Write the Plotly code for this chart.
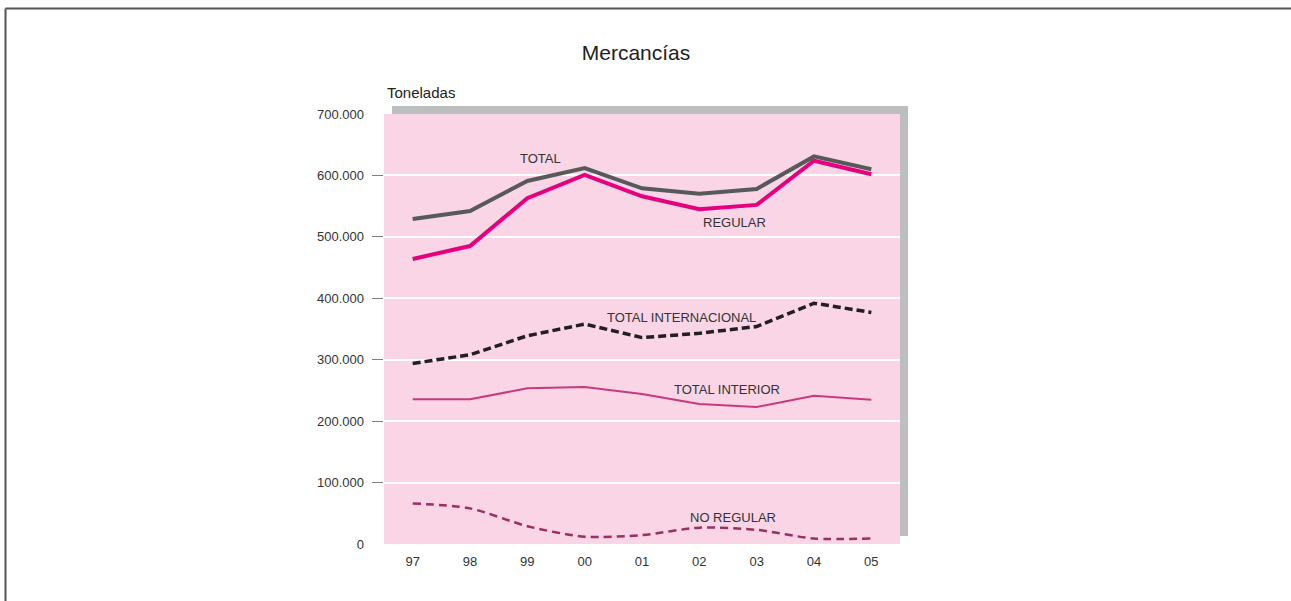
import plotly.graph_objects as go

years = ["97", "98", "99", "00", "01", "02", "03", "04", "05"]
total = [529000, 542000, 591000, 612000, 579000, 570000, 578000, 631000, 610000]
regular = [464000, 485000, 563000, 601000, 566000, 545000, 552000, 624000, 602000]
no_regular = [66000, 58000, 29000, 12000, 14500, 26500, 23000, 9000, 9000]
total_internacional = [294000, 308000, 339000, 358000, 336000, 343000, 354000, 392000, 377000]
total_interior = [235500, 235500, 253500, 255500, 244000, 228000, 223000, 241500, 235000]
y_ticks = [0, 100000, 200000, 300000, 400000, 500000, 600000, 700000]
y_tick_labels = ["0", "100.000", "200.000", "300.000", "400.000", "500.000", "600.000", "700.000"]

FONT = "Liberation Sans, Arial, sans-serif"
W, H = 1291, 601
L, R, T, B = 384, 391, 114, 57
PW, PH = W - L - R, H - T - B


def px_x(p):
    return (p - L) / PW


def px_y(p):
    return (H - B - p) / PH


fig = go.Figure()
fig.add_trace(go.Scatter(x=years, y=total_interior, mode="lines",
                         line=dict(color="#c83a80", width=2), name="TOTAL INTERIOR"))
fig.add_trace(go.Scatter(x=years, y=no_regular, mode="lines",
                         line=dict(color="#9a2f62", width=2.5, dash="8px,5px", shape="spline", smoothing=0.8),
                         name="NO REGULAR"))
fig.add_trace(go.Scatter(x=years, y=total_internacional, mode="lines",
                         line=dict(color="#231f20", width=3.5, dash="8px,4px"), name="TOTAL INTERNACIONAL"))
fig.add_trace(go.Scatter(x=years, y=total, mode="lines",
                         line=dict(color="#58595b", width=4), name="TOTAL"))
fig.add_trace(go.Scatter(x=years, y=regular, mode="lines",
                         line=dict(color="#e6007e", width=4), name="REGULAR"))

labels = [("TOTAL", 2.23, 627000), ("REGULAR", 5.62, 524000),
          ("TOTAL INTERNACIONAL", 4.69, 369000), ("TOTAL INTERIOR", 5.48, 251000),
          ("NO REGULAR", 5.59, 43500)]
for txt, lx, ly in labels:
    fig.add_annotation(x=lx, y=ly, xref="x", yref="y", text=txt, showarrow=False,
                       font=dict(family=FONT, size=13, color="#333333"),
                       xanchor="center", yanchor="middle")

fig.add_annotation(x=px_x(385), y=px_y(92), xref="paper", yref="paper", text="Toneladas",
                   showarrow=False, xanchor="left", yanchor="middle",
                   font=dict(family=FONT, size=15, color="#222222"))

shapes = [
    dict(type="rect", xref="paper", yref="paper", x0=px_x(392), x1=px_x(908), y0=px_y(536), y1=px_y(106),
         fillcolor="#bcbec0", line=dict(width=0), layer="below"),
    dict(type="rect", xref="paper", yref="paper", x0=0, x1=1, y0=0, y1=1,
         fillcolor="#f9d5e6", line=dict(width=0), layer="below"),
    dict(type="line", xref="paper", yref="paper", x0=px_x(5.5), x1=px_x(1291), y0=px_y(8.5), y1=px_y(8.5),
         line=dict(color="#555555", width=2)),
    dict(type="line", xref="paper", yref="paper", x0=px_x(5.5), x1=px_x(5.5), y0=px_y(8.5), y1=px_y(601),
         line=dict(color="#555555", width=2)),
]

fig.update_layout(
    width=W, height=H,
    margin=dict(l=L, r=R, t=T, b=B, pad=0),
    paper_bgcolor="white", plot_bgcolor="rgba(0,0,0,0)",
    showlegend=False,
    shapes=shapes,
    title=dict(text="Mercancías", x=636 / W, xanchor="center", y=1 - 53 / H, yanchor="middle",
               xref="container", yref="container",
               font=dict(family=FONT, size=21, color="#222222")),
    font=dict(family=FONT, size=13, color="#333333"),
    xaxis=dict(type="category", range=[-0.5, 8.5], showgrid=False, zeroline=False, showline=False,
               ticks="", tickfont=dict(family=FONT, size=13, color="#333333"), ticklabelstandoff=8,
               fixedrange=True),
    yaxis=dict(range=[0, 700000], tickmode="array", tickvals=y_ticks, ticktext=y_tick_labels,
               showgrid=True, gridcolor="white", gridwidth=1.5, zeroline=False, showline=False,
               ticks="", ticklabelstandoff=19, tickfont=dict(family=FONT, size=13, color="#333333"),
               minor=dict(tickmode="array", tickvals=y_ticks[1:-1], ticks="outside", ticklen=11,
                          tickcolor="#808080", tickwidth=1, showgrid=False),
               fixedrange=True),
)

fig.write_html("out.html", config={"displayModeBar": False},
               post_script="document.body.style.margin='0px';document.body.style.overflow='hidden';")
